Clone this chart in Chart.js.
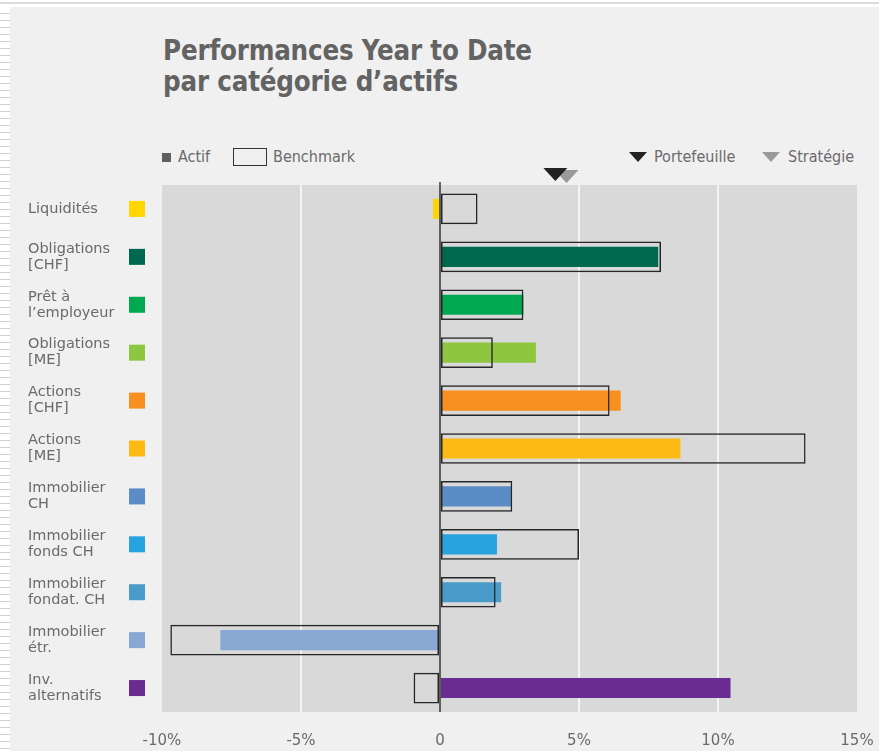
<!DOCTYPE html>
<html>
<head>
<meta charset="utf-8">
<script src="https://cdn.jsdelivr.net/npm/chart.js@4.4.1/dist/chart.umd.min.js"></script>
<style>
html, body { margin: 0; padding: 0; width: 879px; height: 751px; overflow: hidden; background: #fff; }
#topline { position: absolute; left: 0; top: 2px; width: 879px; height: 2px; background: #dcdcdc; }
#strip { position: absolute; left: 0; top: 7px; width: 10px; height: 744px;
  background: repeating-linear-gradient(to bottom, #fff 0, #fff 6px, #d0d0d0 6px, #d0d0d0 7px); }
#panel { position: absolute; left: 10px; top: 7px; width: 869px; height: 744px; background: #f0f0f0; }
#title { position: absolute; left: 163px; top: 35px; color: #636363; white-space: nowrap;
  font: bold 29px/31px "DejaVu Sans Condensed", Roboto, sans-serif; letter-spacing: -0.2px;
  transform: scaleX(0.945); transform-origin: 0 0; }
.leg { position: absolute; top: 148px; color: #6a6a6a; font: 16px/18px "DejaVu Sans Condensed", Roboto, sans-serif; white-space: nowrap; }
.leg i { position: absolute; display: block; }
canvas { position: absolute; left: 0; top: 0; }
</style>
</head>
<body>
<div id="topline"></div>
<div id="strip"></div>
<div id="panel"></div>
<div id="title">Performances Year to Date<br>par catégorie d’actifs</div>

<div class="leg" style="left:162px"><i style="left:0;top:5px;width:9px;height:9px;background:#5f5f5f"></i><span style="margin-left:16px">Actif</span></div>
<div class="leg" style="left:233px"><i style="left:0;top:0;width:34px;height:18px;border:1.5px solid #333;box-sizing:border-box"></i><span style="margin-left:40px">Benchmark</span></div>
<div class="leg" style="left:629px"><i style="left:0;top:4px;width:0;height:0;border-left:9px solid transparent;border-right:9px solid transparent;border-top:10px solid #222"></i><span style="margin-left:25px">Portefeuille</span></div>
<div class="leg" style="left:762px"><i style="left:0;top:4px;width:0;height:0;border-left:9px solid transparent;border-right:9px solid transparent;border-top:10px solid #9a9a9a"></i><span style="margin-left:26px">Stratégie</span></div>

<canvas id="chart" width="879" height="751"></canvas>

<script>
// catégories et valeurs (en %)
const categories = [
  ['Liquidités'],
  ['Obligations', '[CHF]'],
  ['Prêt à', 'l’employeur'],
  ['Obligations', '[ME]'],
  ['Actions', '[CHF]'],
  ['Actions', '[ME]'],
  ['Immobilier', 'CH'],
  ['Immobilier', 'fonds CH'],
  ['Immobilier', 'fondat. CH'],
  ['Immobilier', 'étr.'],
  ['Inv.', 'alternatifs']
];
const actif = [-0.25, 7.85, 3.0, 3.45, 6.5, 8.65, 2.55, 2.05, 2.2, -7.9, 10.45];
const benchmark = [1.35, 7.95, 3.0, 1.9, 6.1, 13.15, 2.6, 5.0, 2.0, -9.7, -0.95];
const colors = ['#ffd600', '#006850', '#00a94f', '#8dc63f', '#f7901e', '#fdb913',
  '#5b8cc6', '#27a4df', '#4a9bca', '#88a7d2', '#6a2c91'];
const xTicks = [-10, -5, 0, 5, 10, 15];
const portefeuille = 4.15;
const strategie = 4.55;

const labelFont = { family: 'DejaVu Sans, Verdana, sans-serif', size: 14.5, lineHeight: 1.1 };

const decor = {
  id: 'decor',
  beforeDraw(chart) {
    const { ctx, chartArea: a } = chart;
    ctx.save();
    ctx.fillStyle = '#d9d9d9';
    ctx.fillRect(a.left, a.top, a.right - a.left, a.bottom - a.top);
    ctx.restore();
  },
  afterDatasetsDraw(chart) {
    const { ctx, chartArea: a } = chart;
    const x = chart.scales.x, y = chart.scales.y;
    ctx.save();
    // petits carrés de couleur à côté des libellés
    colors.forEach((c, i) => {
      const cy = y.getPixelForValue(i);
      ctx.fillStyle = c;
      ctx.fillRect(129, cy - 8, 16, 16);
    });
    // ligne du zéro
    const x0 = x.getPixelForValue(0);
    ctx.strokeStyle = '#333';
    ctx.lineWidth = 1.5;
    ctx.beginPath();
    ctx.moveTo(x0, a.top - 3);
    ctx.lineTo(x0, a.bottom);
    ctx.stroke();
    // marqueurs Portefeuille / Stratégie
    const tri = (v, dy, col) => {
      const px = x.getPixelForValue(v);
      ctx.fillStyle = col;
      ctx.beginPath();
      ctx.moveTo(px - 12, a.top - 17 + dy);
      ctx.lineTo(px + 12, a.top - 17 + dy);
      ctx.lineTo(px, a.top - 4 + dy);
      ctx.closePath();
      ctx.fill();
    };
    tri(strategie, 2, '#9a9a9a');
    tri(portefeuille, 0, '#222');
    ctx.restore();
  }
};

new Chart(document.getElementById('chart'), {
  type: 'bar',
  data: {
    labels: categories,
    datasets: [
      {
        label: 'Benchmark',
        data: benchmark,
        backgroundColor: 'rgba(0,0,0,0)',
        borderColor: '#262626',
        borderWidth: 1.5,
        borderSkipped: false,
        barPercentage: 0.64,
        categoryPercentage: 1,
        grouped: false,
        order: 0
      },
      {
        label: 'Actif',
        data: actif,
        backgroundColor: colors,
        borderWidth: 0,
        barPercentage: 0.42,
        categoryPercentage: 1,
        grouped: false,
        order: 1
      }
    ]
  },
  options: {
    indexAxis: 'y',
    responsive: false,
    animation: false,
    events: [],
    layout: { padding: { left: 28, top: 185, right: 22, bottom: 0 } },
    plugins: { legend: { display: false }, tooltip: { enabled: false } },
    scales: {
      x: {
        type: 'linear',
        min: -10,
        max: 15,
        afterBuildTicks: s => { s.ticks = xTicks.map(v => ({ value: v })); },
        afterFit: s => { s.height = 39; s.paddingLeft = 0; s.paddingRight = 0; },
        ticks: {
          padding: 20,
          color: '#6a6a6a',
          font: { family: 'DejaVu Sans, Verdana, sans-serif', size: 15 },
          callback: v => v === 0 ? '0' : v + '%'
        },
        grid: {
          drawTicks: false,
          lineWidth: 2,
          color: c => (c.tick && (c.tick.value === -10 || c.tick.value === 15 || c.tick.value === 0)) ? 'rgba(0,0,0,0)' : '#f4f4f4'
        },
        border: { display: false }
      },
      y: {
        type: 'category',
        afterFit: s => { s.width = 134; },
        ticks: {
          crossAlign: 'far',
          color: '#6a6a6a',
          font: labelFont,
          autoSkip: false
        },
        grid: { display: false },
        border: { display: false }
      }
    }
  },
  plugins: [decor]
});
</script>
</body>
</html>
